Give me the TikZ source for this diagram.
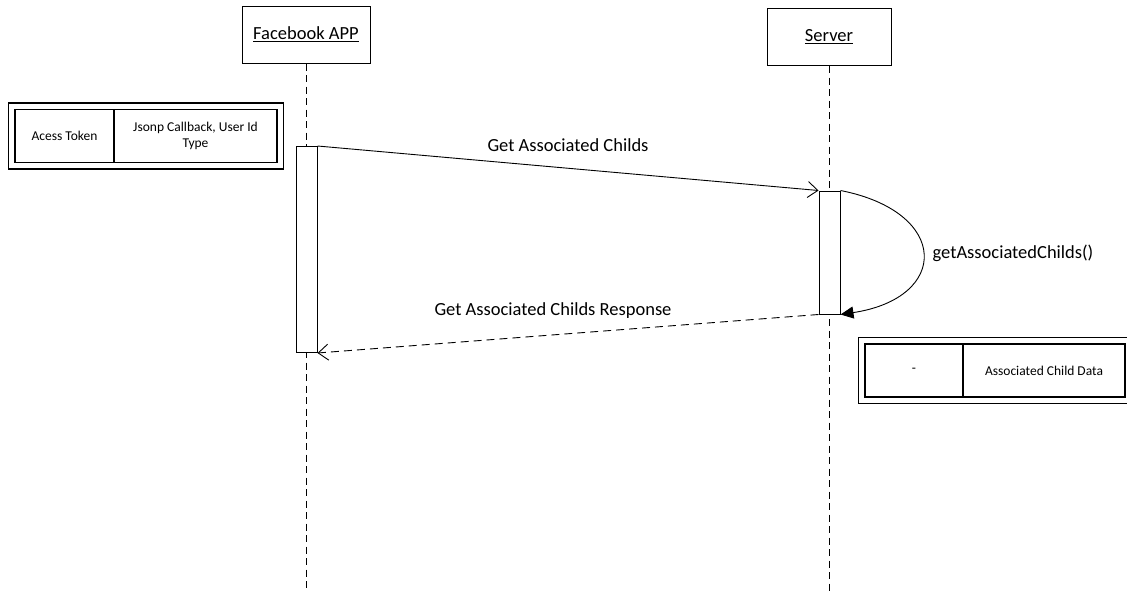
\documentclass[tikz,border=0pt]{standalone}
\usepackage{fontspec}
\setmainfont{Carlito}
\usetikzlibrary{arrows.meta,positioning,fit}

\begin{document}
\begin{tikzpicture}[
  x=1pt, y=-1pt,
  head/.style={draw, line width=1pt, fill=white, minimum height=57pt, font=\fontsize{18.5}{21}\selectfont},
  actbar/.style={draw, line width=1pt, fill=white, minimum width=21pt, inner sep=0pt},
  cell/.style={draw, line width=1.5pt, minimum height=53pt, inner sep=0pt, outer sep=0pt, align=center, font=\fontsize{13.5}{16}\selectfont},
  frame/.style={draw, line width=1.5pt, inner sep=6.5pt},
  lbl/.style={font=\fontsize{18.5}{21}\selectfont},
  lifeline/.style={line width=0.9pt, dash pattern=on 7pt off 4.5pt},
  msg/.style={-{Straight Barb[length=10pt,width=16pt]}, line width=0.9pt},
  ret/.style={msg, dash pattern=on 8pt off 5pt},
  selfmsg/.style={-{Triangle[length=13pt,width=12pt]}, line width=0.9pt},
]
\useasboundingbox (0,0) rectangle (1127,592);

% Lifelines
\node[head, minimum width=128pt] (fb) at (306,34.5) {\underline{Facebook APP}};
\node[head, minimum width=124pt] (srv) at (829,37) {\underline{Server}};
\coordinate (fbend) at (306,592);
\coordinate (srvend) at (829,592);
\draw[lifeline] (fb) -- (fbend);
\draw[lifeline] (srv) -- (srvend);

% Activations
\node[actbar, minimum height=206pt] (fbact) at (306.5,249.5) {};
\node[actbar, minimum height=123pt] (srvact) at (829.5,252.5) {};

% Parameters
\node[cell, minimum width=99pt] (tok) at (64.5,136) {Acess Token};
\node[cell, minimum width=163pt, right=0pt of tok] (cb) {Jsonp Callback, User Id\\Type};
\node[frame, fit=(tok)(cb)] (inbox) {};

\node[cell, minimum width=98pt] (dash) at (914,370.5) {-};
\node[cell, minimum width=162pt, right=0pt of dash] (child) {Associated Child Data};
\node[frame, fit=(dash)(child)] (outbox) {};

% Messages
\draw[msg] (fbact.north east) -- (srvact.north west);
\node[lbl] (reql) at (568,145) {Get Associated Childs};
\draw[selfmsg] (srvact.north east) .. controls (950,212) and (950,298) .. (srvact.south east);
\node[lbl] (loopl) at (1013,253) {getAssociatedChilds()};
\draw[ret] (srvact.south west) -- (fbact.south east);
\node[lbl] (resl) at (553,311) {Get Associated Childs Response};
\end{tikzpicture}
\end{document}
